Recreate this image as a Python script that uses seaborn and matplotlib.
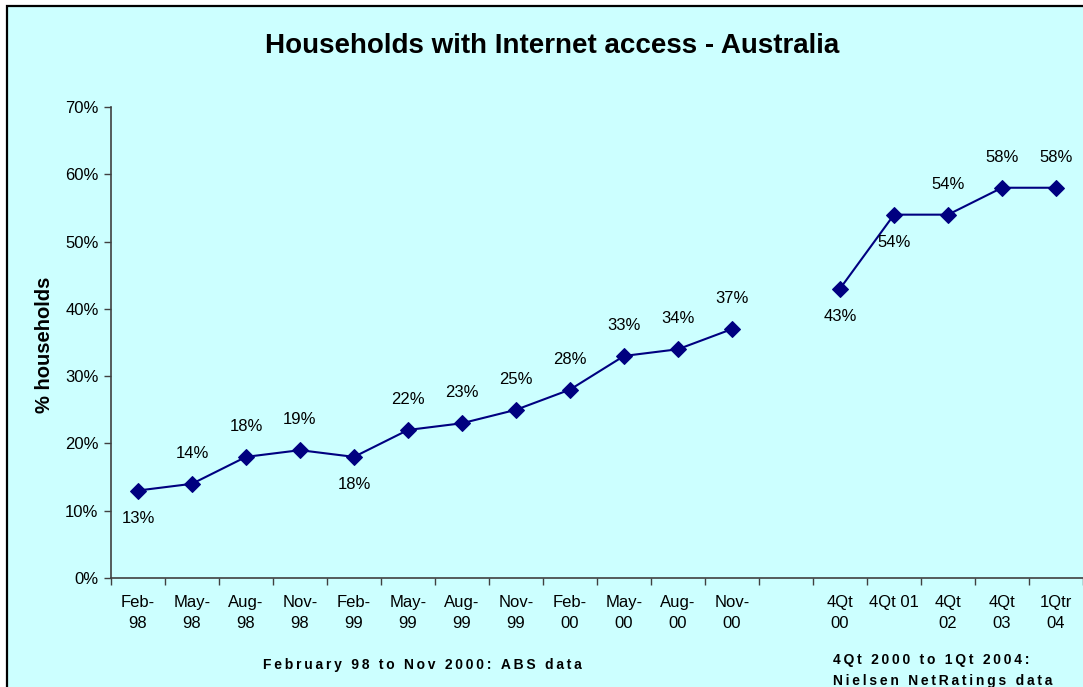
import numpy as np
import pandas as pd
import matplotlib
matplotlib.use("Agg")
import matplotlib.pyplot as plt
from matplotlib.patches import Rectangle
from matplotlib.ticker import FixedLocator, NullFormatter, FixedFormatter
import seaborn as sns

# ABS survey periods (Feb 98 - Nov 00)
abs_labels = ["Feb-\n98", "May-\n98", "Aug-\n98", "Nov-\n98", "Feb-\n99", "May-\n99",
              "Aug-\n99", "Nov-\n99", "Feb-\n00", "May-\n00", "Aug-\n00", "Nov-\n00"]
abs_values = [13, 14, 18, 19, 18, 22, 23, 25, 28, 33, 34, 37]

# Nielsen NetRatings periods (4Qt 00 - 1Qtr 04)
nielsen_labels = ["4Qt\n00", "4Qt 01", "4Qt\n02", "4Qt\n03", "1Qtr\n04"]
nielsen_values = [43, 54, 54, 58, 58]

# label placement relative to each point: +1 above, -1 below
abs_label_side = [-1, 1, 1, 1, -1, 1, 1, 1, 1, 1, 1, 1]
nielsen_label_side = [-1, -1, 1, 1, 1]

y_ticks = [0, 10, 20, 30, 40, 50, 60, 70]

bg = "#CCFFFF"
navy = "#000080"

sns.set_theme(style="white")
plt.rcParams["font.family"] = ["Liberation Sans", "DejaVu Sans"]
plt.rcParams["text.color"] = "black"
plt.rcParams["xtick.color"] = "black"
plt.rcParams["ytick.color"] = "black"
plt.rcParams["axes.labelcolor"] = "black"


def spaced(text):
    """Widen letter spacing with thin spaces between characters."""
    return "\u2009".join(text)


# slot positions: one empty slot separates the two data sources
abs_pos = list(range(len(abs_values)))
gap = 1
nielsen_pos = [len(abs_values) + gap + i for i in range(len(nielsen_values))]
n_slots = len(abs_values) + gap + len(nielsen_values)

df = pd.DataFrame({
    "pos": abs_pos + nielsen_pos,
    "value": abs_values + nielsen_values,
    "source": ["ABS"] * len(abs_values) + ["Nielsen"] * len(nielsen_values),
    "side": abs_label_side + nielsen_label_side,
})

fig = plt.figure(figsize=(10.83, 6.87), dpi=100)
fig.patch.set_facecolor("white")
fig.add_artist(Rectangle((7 / 1083, -0.05), 1.2, 1.05 - 6 / 687,
                         transform=fig.transFigure, facecolor=bg,
                         edgecolor="black", linewidth=1.6, zorder=-10))

ax = fig.add_axes([111 / 1083, 1 - 578 / 687, 1 - 111 / 1083, (578 - 107) / 687])
ax.set_facecolor(bg)
ax.patch.set_alpha(0)

sns.lineplot(data=df, x="pos", y="value", hue="source", units="source",
             estimator=None, palette=[navy, navy], marker="D", markersize=8.5,
             markeredgecolor=navy, linewidth=1.5, legend=False, ax=ax)

for _, r in df.iterrows():
    dy = 22 if r["side"] > 0 else -20
    ax.annotate(f"{r['value']}%", (r["pos"], r["value"]),
                xytext=(0, dy), textcoords="offset points",
                ha="center", va="center", fontsize=12, color="black")

ax.set_xlim(-0.5, n_slots - 0.5)
ax.set_ylim(0, 70)
ax.set_yticks(y_ticks)
ax.set_yticklabels([f"{t}%" for t in y_ticks])

# category boundaries carry the tick marks; labels sit at slot centres
ax.xaxis.set_major_locator(FixedLocator(np.arange(-0.5, n_slots, 1.0)))
ax.xaxis.set_major_formatter(NullFormatter())
ax.xaxis.set_minor_locator(FixedLocator(abs_pos + nielsen_pos))
ax.xaxis.set_minor_formatter(FixedFormatter(abs_labels + nielsen_labels))
ax.tick_params(axis="x", which="major", direction="out", length=5, width=1, color="#404040", bottom=True)
ax.tick_params(axis="x", which="minor", length=0, labelsize=12, pad=12, bottom=True)
ax.tick_params(axis="y", direction="out", length=5, width=1, color="#404040", labelsize=12, left=True, pad=4)
for lab in ax.xaxis.get_minorticklabels():
    lab.set_multialignment("center")
    lab.set_linespacing(1.55)

for s in ["top", "right"]:
    ax.spines[s].set_visible(False)
for s in ["left", "bottom"]:
    ax.spines[s].set_color("#404040")
    ax.spines[s].set_linewidth(1.2)

ax.set_xlabel("")
ax.set_ylabel("% households", fontsize=14.5, fontweight="bold")
ax.yaxis.set_label_coords(-0.059, 0.495)

fig.text(552 / 1083, 1 - 46 / 687, "Households with Internet access - Australia",
         ha="center", va="center", fontsize=20, fontweight="bold")
fig.text(422 / 1083, 1 - 665 / 687, spaced("February 98 to Nov 2000: ABS data"),
         ha="center", va="center", fontsize=10, fontweight="bold")
fig.text(833 / 1083, 1 - 660 / 687, spaced("4Qt 2000 to 1Qt 2004:"),
         ha="left", va="center", fontsize=10, fontweight="bold")
fig.text(833 / 1083, 1 - 681 / 687, spaced("Nielsen NetRatings data"),
         ha="left", va="center", fontsize=10, fontweight="bold")

fig.savefig("out.png", dpi=100, facecolor=fig.get_facecolor())
